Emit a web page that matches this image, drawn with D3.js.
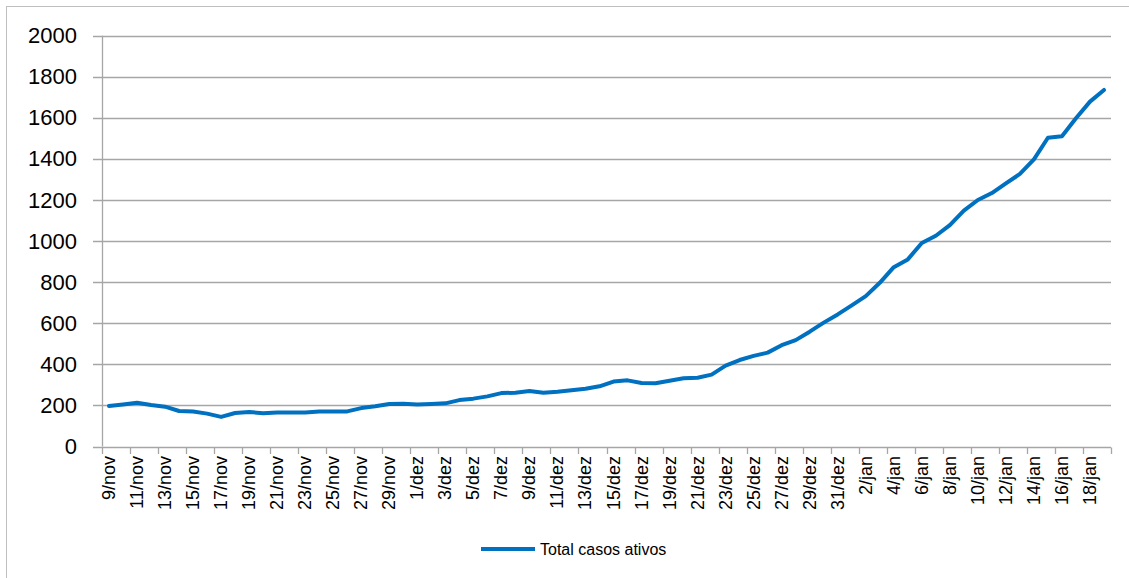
<!DOCTYPE html>
<html>
<head>
<meta charset="utf-8">
<script src="https://cdn.jsdelivr.net/npm/d3@7"></script>
<style>
  html, body { margin: 0; padding: 0; background: #fff; }
  svg { display: block; font-family: "Liberation Sans", Arial, sans-serif; }
</style>
</head>
<body>
<svg id="chart" width="1129" height="578"></svg>
<script>
// Daily dates, 9 Nov – 19 Jan
const dates = [
  "9/nov","10/nov","11/nov","12/nov","13/nov","14/nov","15/nov","16/nov","17/nov","18/nov",
  "19/nov","20/nov","21/nov","22/nov","23/nov","24/nov","25/nov","26/nov","27/nov","28/nov",
  "29/nov","30/nov","1/dez","2/dez","3/dez","4/dez","5/dez","6/dez","7/dez","8/dez",
  "9/dez","10/dez","11/dez","12/dez","13/dez","14/dez","15/dez","16/dez","17/dez","18/dez",
  "19/dez","20/dez","21/dez","22/dez","23/dez","24/dez","25/dez","26/dez","27/dez","28/dez",
  "29/dez","30/dez","31/dez","1/jan","2/jan","3/jan","4/jan","5/jan","6/jan","7/jan",
  "8/jan","9/jan","10/jan","11/jan","12/jan","13/jan","14/jan","15/jan","16/jan","17/jan",
  "18/jan","19/jan"
];

// Total active cases per day
const activeCases = [
  197, 205, 213, 202, 194, 173, 170, 160, 144, 163,
  168, 162, 166, 166, 166, 170, 170, 171, 187, 196,
  207, 208, 204, 207, 210, 226, 233, 244, 260, 262,
  270, 262, 267, 274, 281, 293, 316, 322, 309, 308,
  320, 332, 335, 350, 394, 421, 441, 457, 493, 518,
  559, 603, 643, 687, 732, 797, 873, 911, 991, 1026,
  1078, 1148, 1200, 1234, 1281, 1327, 1398, 1503, 1510, 1598,
  1679, 1736
];

const yTicks = [0, 200, 400, 600, 800, 1000, 1200, 1400, 1600, 1800, 2000];
const seriesName = "Total casos ativos";

const svg = d3.select("#chart");
const gridColor = "#a6a6a6";
const lineColor = "#0070c0";

// Outer frame
svg.append("rect")
  .attr("x", 6.5).attr("y", 6.5)
  .attr("width", 1130).attr("height", 580)
  .attr("fill", "none").attr("stroke", "#bfbfbf").attr("stroke-width", 1);

const plotLeft = 102, plotRight = 1111, plotTop = 35.7, plotBottom = 446.5;

const x = d3.scaleBand().domain(dates).range([plotLeft, plotRight]).padding(0);
const y = d3.scaleLinear().domain([0, 2000]).range([plotBottom, plotTop]);

// Horizontal gridlines with small left ticks
svg.append("g")
  .selectAll("line")
  .data(yTicks)
  .join("line")
  .attr("x1", plotLeft - 9).attr("x2", plotRight)
  .attr("y1", d => Math.round(y(d)) + 0.5)
  .attr("y2", d => Math.round(y(d)) + 0.5)
  .attr("stroke", gridColor).attr("stroke-width", 1.3);

// Y axis labels
svg.append("g")
  .selectAll("text")
  .data(yTicks)
  .join("text")
  .attr("x", 77)
  .attr("y", d => y(d))
  .attr("text-anchor", "end")
  .attr("dominant-baseline", "central")
  .attr("font-size", 22)
  .attr("fill", "#000")
  .text(d => d);

// Y axis line
svg.append("line")
  .attr("x1", plotLeft + 0.5).attr("x2", plotLeft + 0.5)
  .attr("y1", plotTop).attr("y2", plotBottom)
  .attr("stroke", gridColor).attr("stroke-width", 1.3);

// X axis tick marks at every second category boundary
const tickIdx = d3.range(0, dates.length + 1, 2);
svg.append("g")
  .selectAll("line")
  .data(tickIdx)
  .join("line")
  .attr("x1", i => Math.round(plotLeft + i * x.step()) + 0.5)
  .attr("x2", i => Math.round(plotLeft + i * x.step()) + 0.5)
  .attr("y1", Math.round(plotBottom) + 0.5)
  .attr("y2", Math.round(plotBottom) + 7)
  .attr("stroke", gridColor).attr("stroke-width", 1.3);

// X axis category labels (every second day), rotated
svg.append("g")
  .selectAll("text")
  .data(dates.filter((d, i) => i % 2 === 0))
  .join("text")
  .attr("transform", d => `translate(${x(d) + x.bandwidth() / 2},456) rotate(-90)`)
  .attr("text-anchor", "end")
  .attr("dominant-baseline", "central")
  .attr("font-size", 18)
  .attr("fill", "#000")
  .text(d => d);

// Series line
const line = d3.line()
  .x((d, i) => x(dates[i]) + x.bandwidth() / 2)
  .y(d => y(d));

svg.append("path")
  .datum(activeCases)
  .attr("d", line)
  .attr("fill", "none")
  .attr("stroke", lineColor)
  .attr("stroke-width", 4)
  .attr("stroke-linejoin", "round")
  .attr("stroke-linecap", "round");

// Legend
const legend = svg.append("g");
legend.append("line")
  .attr("x1", 481).attr("x2", 535)
  .attr("y1", 549).attr("y2", 549)
  .attr("stroke", lineColor).attr("stroke-width", 4);
legend.append("text")
  .attr("x", 540).attr("y", 549)
  .attr("dominant-baseline", "central")
  .attr("font-size", 16)
  .attr("fill", "#000")
  .text(seriesName);
</script>
</body>
</html>
